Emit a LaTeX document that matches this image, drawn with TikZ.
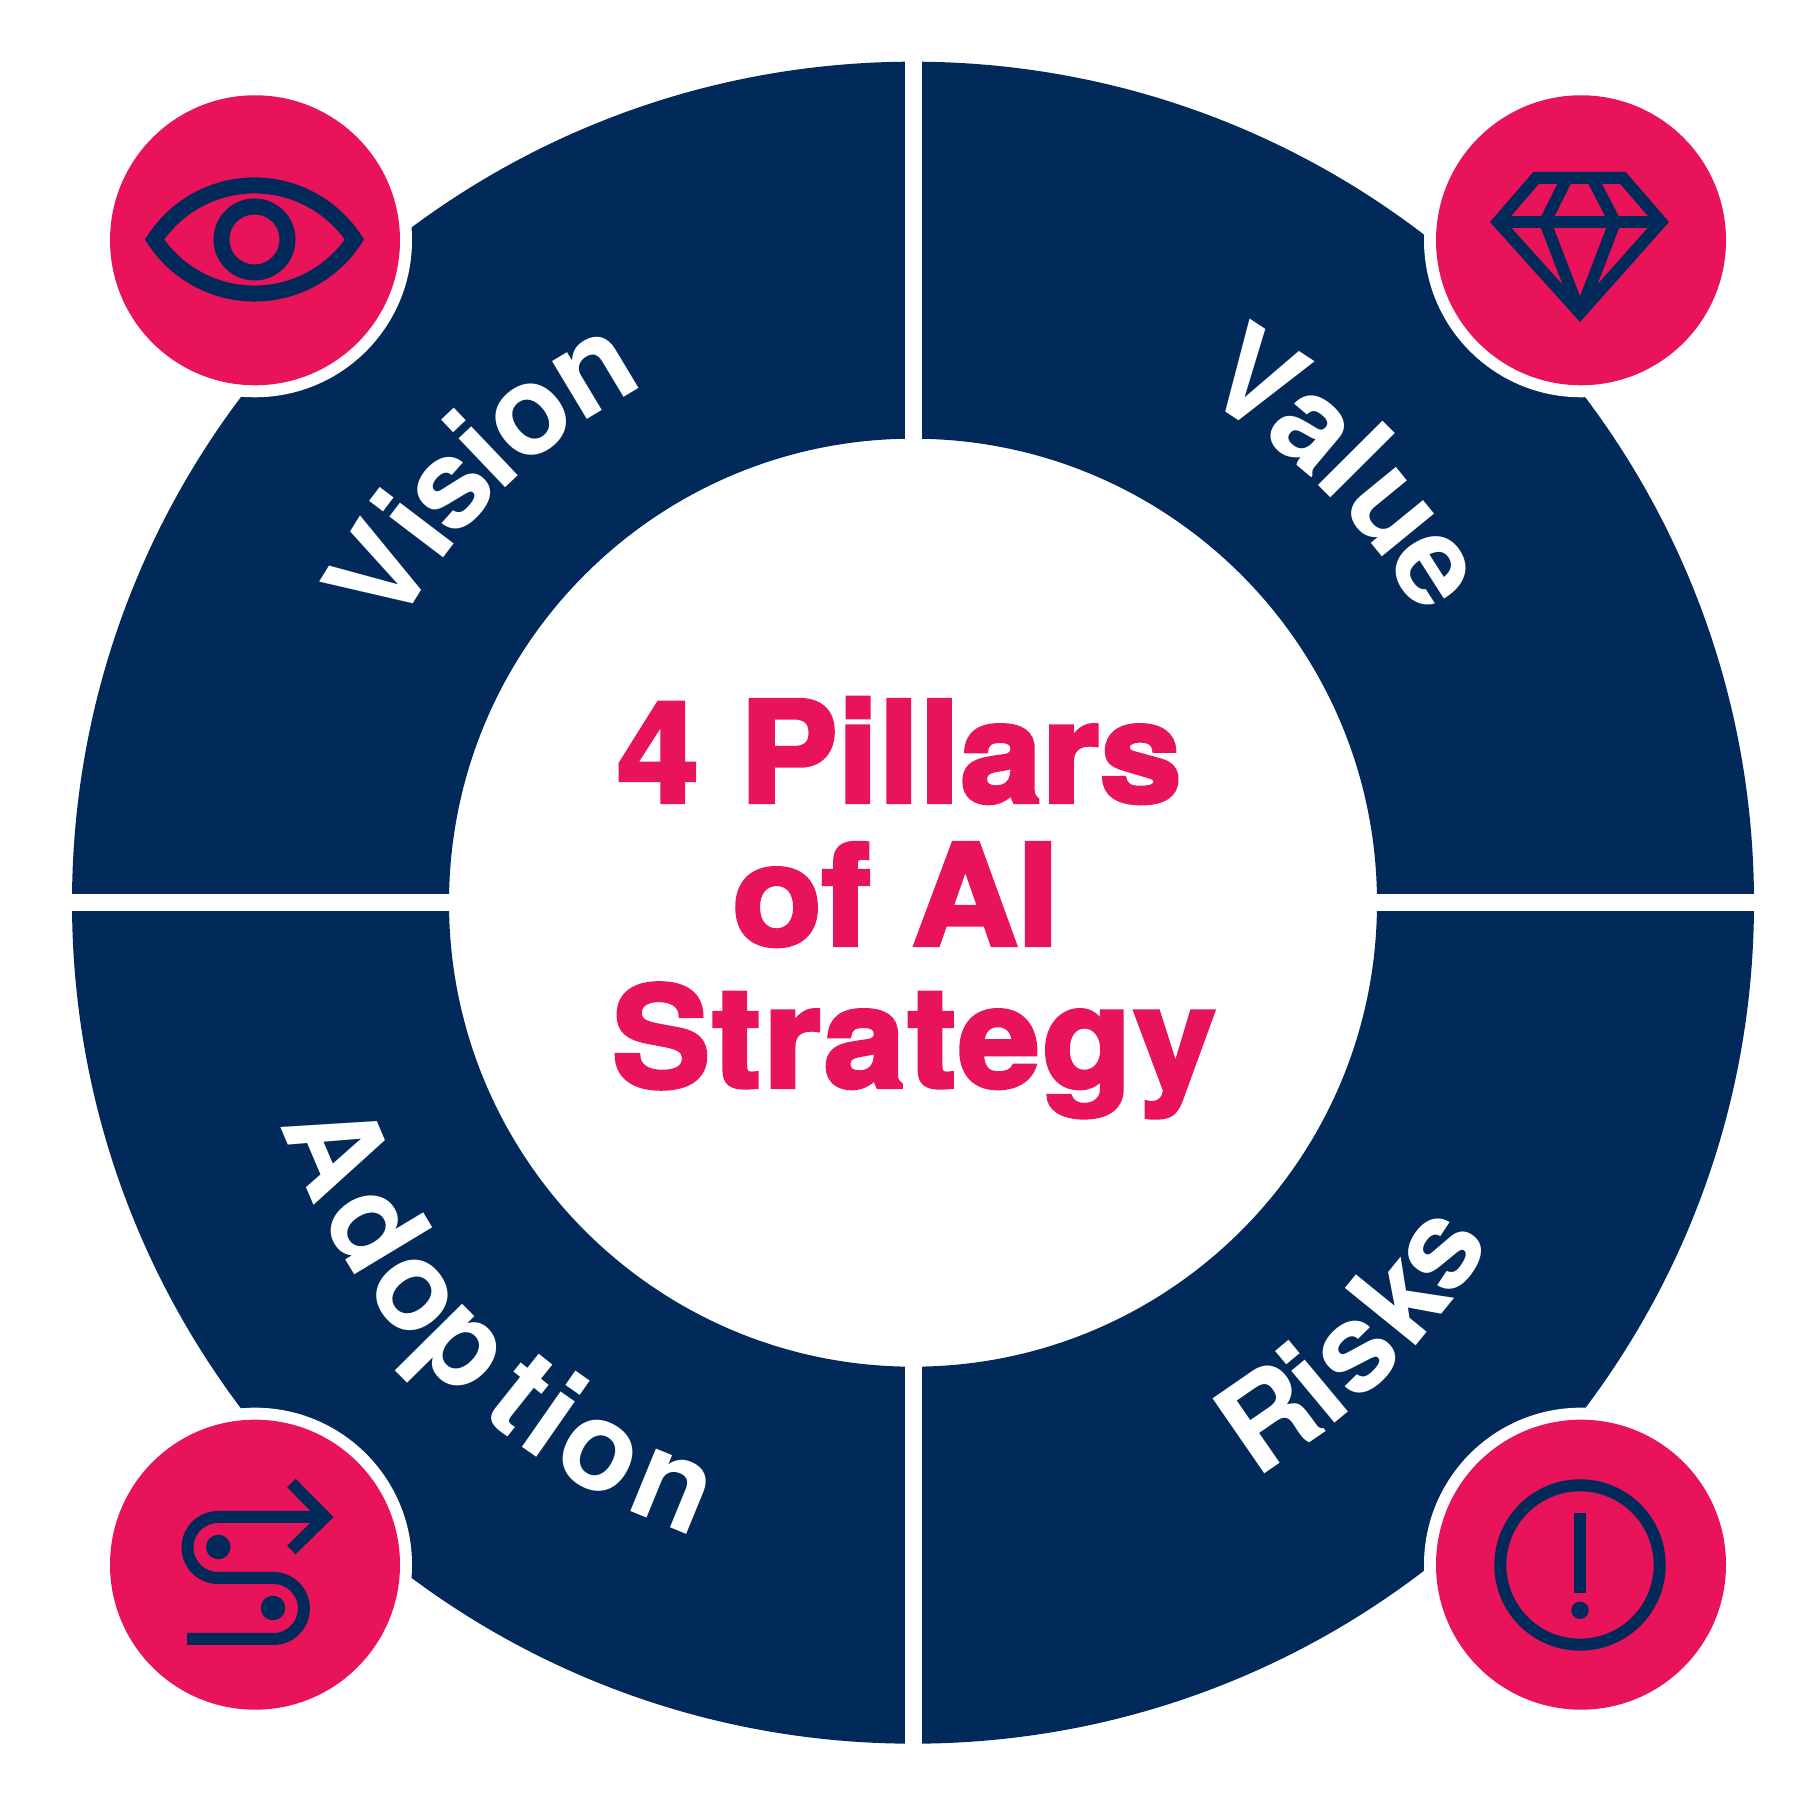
\documentclass[tikz,border=0pt]{standalone}
\usepackage{fontspec}
\newfontfamily\titlefont[FakeBold=3,FakeStretch=1.05]{TeX Gyre Heros Bold}
\newfontfamily\labelfont{TeX Gyre Heros Bold}
\usepackage{xcolor}
\usetikzlibrary{calc}

\definecolor{pinkfill}{RGB}{233,19,90}
\definecolor{navyfill}{RGB}{1,41,89}

\tikzset{
  iconline/.style={draw=navyfill, line width=12pt, miter limit=10},
  titletext/.style={anchor=base, text=pinkfill, inner sep=0pt, font=\titlefont\fontsize{140}{142}\selectfont},
  labeltext/.style={anchor=base, text=white, inner sep=0pt, font=\labelfont\fontsize{125}{125}\selectfont},
  gapline/.style={draw=white, line width=17pt},
}

\begin{document}
\begin{tikzpicture}[x=1pt,y=1pt]
        \useasboundingbox (0,0) rectangle (1800,1793);
        \coordinate (c) at (913,890.3);

        \fill[navyfill, even odd rule] (c) circle (841pt) (c) circle (464pt);
        \draw[gapline] (913,1793) -- (913,0);
        \draw[gapline] (0,890.3) -- (1800,890.3);

        \foreach \ltr/\ang [count=\i] in {V/148.3, i/142.8, s/138.2, i/133.6, o/128.3, n/121}
          \node[labeltext, rotate=\ang-90] (vision\i) at ($(c)+(\ang:582pt)$) {\ltr};
        \foreach \ltr/\ang [count=\i] in {V/56.7, a/49.9, l/44.9, u/39.3, e/32.6}
          \node[labeltext, rotate=\ang-90] (value\i) at ($(c)+(\ang:582pt)$) {\ltr};
        \foreach \ltr/\ang [count=\i] in {A/203.1, d/211.1, o/218.1, p/224.7, t/231.4, i/235.1, o/240.4, n/247.7}
          \node[labeltext, rotate=\ang+90] (adoption\i) at ($(c)+(\ang:670pt)$) {\ltr};
        \foreach \ltr/\ang [count=\i] in {R/304.6, i/309.8, s/314.5, k/321, s/326.6}
          \node[labeltext, rotate=\ang+90] (risks\i) at ($(c)+(\ang:670pt)$) {\ltr};

        \node[titletext] (pillars) at (899.5,991) {4 Pillars};
        \node[titletext] (ai) at (895.5,848) {of AI};
        \node[titletext] (strategy) at (914,706) {\addfontfeature{LetterSpace=1.6}Strategy};

        % corner circles
        \foreach \cx/\cy in {255/1552.7, 1581/1552.7, 255/228.3, 1581/228.3} {
          \fill[white] (\cx,\cy) circle (157pt);
          \fill[pinkfill] (\cx,\cy) circle (145pt);
        }

        % eye
        \begin{scope}[shift={(254.5,1553.5)}]
          \draw[iconline, line width=16pt] (-100,0) arc[start angle=146.8, end angle=33.2, radius=119.5pt]
            arc[start angle=-33.2, end angle=-146.8, radius=119.5pt] -- cycle;
          \draw[iconline, line width=16pt] (0,0) circle (33pt);
        \end{scope}

        % gem
        \begin{scope}[shift={(0,1793)}]
          \draw[iconline] (1498,-222) -- (1536,-178) -- (1623,-178) -- (1661,-222) -- (1580,-313) -- cycle;
          \draw[iconline] (1498,-222) -- (1661,-222);
          \draw[iconline, line join=bevel] (1567,-178) -- (1545,-222) -- (1580,-313) -- (1615,-222) -- (1592,-178);

          % route
          \draw[iconline] (325,-1517) -- (218,-1517) arc[start angle=90, end angle=270, radius=30.5pt]
            -- (273.4,-1578) arc[start angle=90, end angle=-90, radius=30.5pt] -- (187,-1639);
          \draw[iconline] (291.3,-1483) -- (325,-1517) -- (291.3,-1550);
          \fill[navyfill] (218.3,-1547) circle (12.3pt);
          \fill[navyfill] (273,-1608) circle (12.3pt);

          % warning
          \draw[iconline] (1580,-1565) circle (79.7pt);
          \fill[navyfill] (1574,-1513) rectangle (1586,-1592.7);
          \fill[navyfill] (1580,-1610.3) circle (8.7pt);
        \end{scope}
\end{tikzpicture}
\end{document}
